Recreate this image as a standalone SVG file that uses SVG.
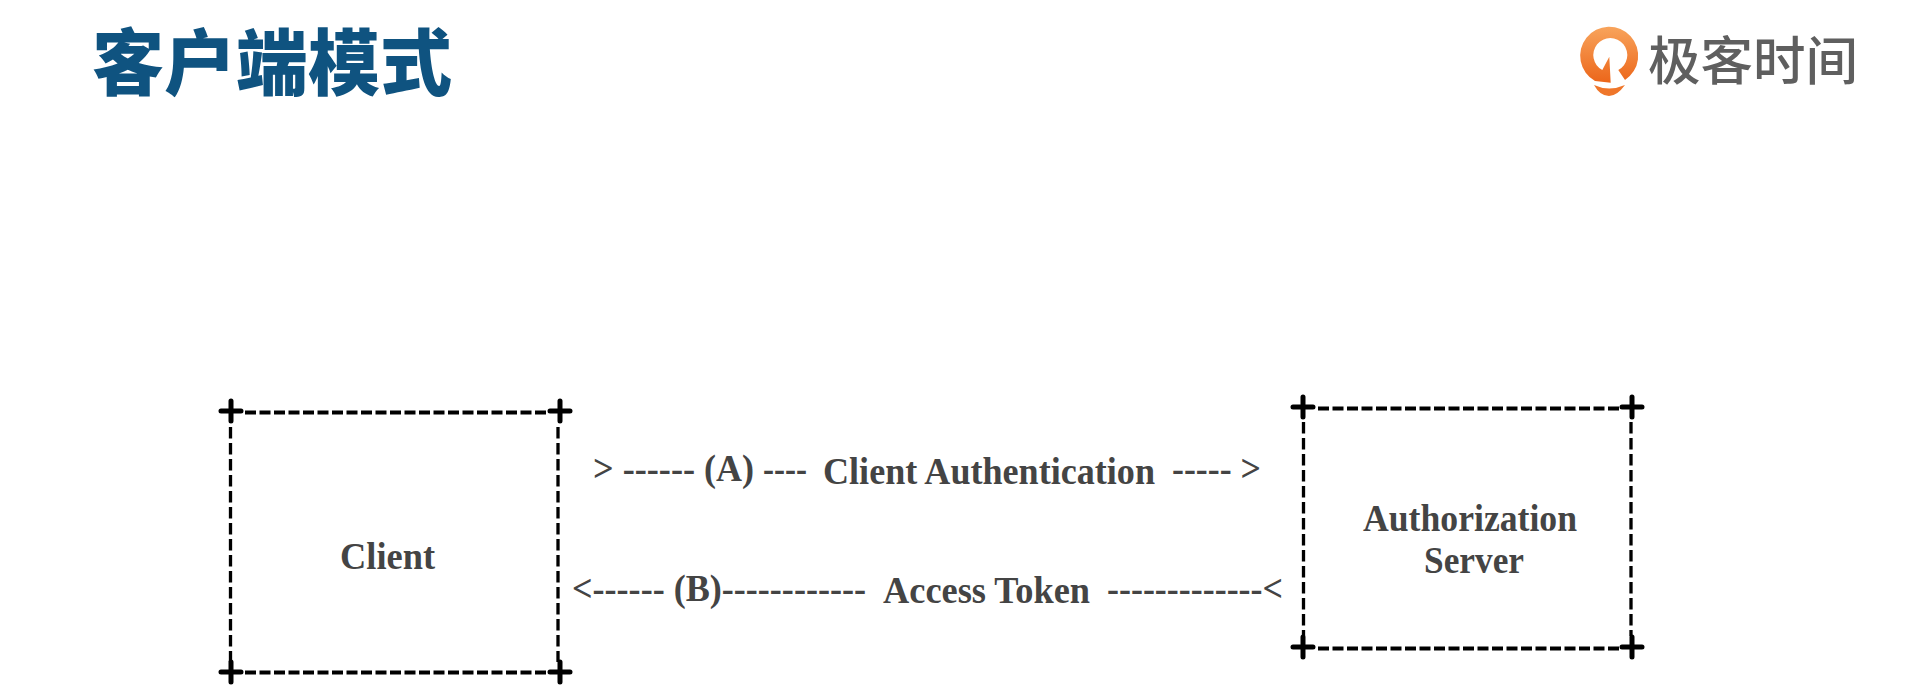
<svg xmlns="http://www.w3.org/2000/svg" width="1920" height="693" viewBox="0 0 1920 693">
<style>
.t{font-family:"Liberation Serif","Times New Roman",serif;font-weight:700;font-size:37px;fill:#444}
.h{stroke:#000;stroke-width:4;stroke-dasharray:11 3.5;fill:none}
.v{stroke:#000;stroke-width:3.3;stroke-dasharray:11.600 4.400;fill:none}
.plus{stroke:#000;stroke-width:5;stroke-linecap:round;fill:none}
</style>
<defs>
<linearGradient id="og" x1="0" y1="0" x2="0" y2="1"><stop offset="0" stop-color="#f8a45c"/><stop offset="1" stop-color="#ec661a"/></linearGradient>
<path id="p" class="plus" d="M-10 0H10M0 -10V10"/>
</defs>
<rect width="1920" height="693" fill="#fff"/>
<g id="title"><text x="92" y="89" font-family="'Noto Sans CJK SC',sans-serif" font-weight="900" font-size="72" fill="#0f5380" textLength="360" lengthAdjust="spacingAndGlyphs">客户端模式</text></g>
<g id="logo">
<path fill="url(#og)" d="M1610.700 82.700L1595 81A29 29 0 1 1 1625 80L1618.300 70A17 17 0 1 0 1602.300 70L1609.300 56.700Z"/>
<path fill="#ef762a" d="M1594 85Q1609 92 1625 85Q1617 96 1609 96Q1600 96 1594 85Z"/>
<text x="1648" y="80" font-family="'Noto Sans CJK SC',sans-serif" font-weight="500" font-size="52" fill="#5f5f5f" textLength="210" lengthAdjust="spacingAndGlyphs">极客时间</text>
</g>
<g id="client">
<path class="h" d="M245 412.500H547M245 672.500H547"/>
<path class="v" d="M230.500 427V662M558 427V662"/>
<use href="#p" x="231" y="411"/><use href="#p" x="560" y="411"/><use href="#p" x="231" y="672"/><use href="#p" x="560" y="672"/>
<text class="t" x="340" y="569" textLength="95" lengthAdjust="spacingAndGlyphs">Client</text>
</g>
<g id="authorization-server">
<path class="h" d="M1318 408.500H1620M1318 648.500H1620"/>
<path class="v" d="M1303.500 422V636M1631 422V636"/>
<use href="#p" x="1303" y="407"/><use href="#p" x="1632" y="407"/><use href="#p" x="1303" y="647"/><use href="#p" x="1632" y="647"/>
<text class="t" x="1363" y="531" textLength="214" lengthAdjust="spacingAndGlyphs">Authorization</text>
<text class="t" x="1424" y="573" textLength="100" lengthAdjust="spacingAndGlyphs">Server</text>
</g>
<g id="connectors">
<text class="t" x="593" y="481" textLength="102" lengthAdjust="spacingAndGlyphs">&gt; ------</text>
<text class="t" x="704" y="481" textLength="50" lengthAdjust="spacingAndGlyphs">(A)</text>
<text class="t" x="763" y="481" textLength="44" lengthAdjust="spacingAndGlyphs">----</text>
<text class="t" x="823" y="484" textLength="332" lengthAdjust="spacingAndGlyphs">Client Authentication</text>
<text class="t" x="1172" y="481" textLength="89" lengthAdjust="spacingAndGlyphs">----- &gt;</text>
<text class="t" x="572" y="601" textLength="294" lengthAdjust="spacingAndGlyphs">&lt;------ (B)------------</text>
<text class="t" x="883" y="603" textLength="207" lengthAdjust="spacingAndGlyphs">Access Token</text>
<text class="t" x="1107" y="601" textLength="176" lengthAdjust="spacingAndGlyphs">-------------&lt;</text>
</g>
</svg>
